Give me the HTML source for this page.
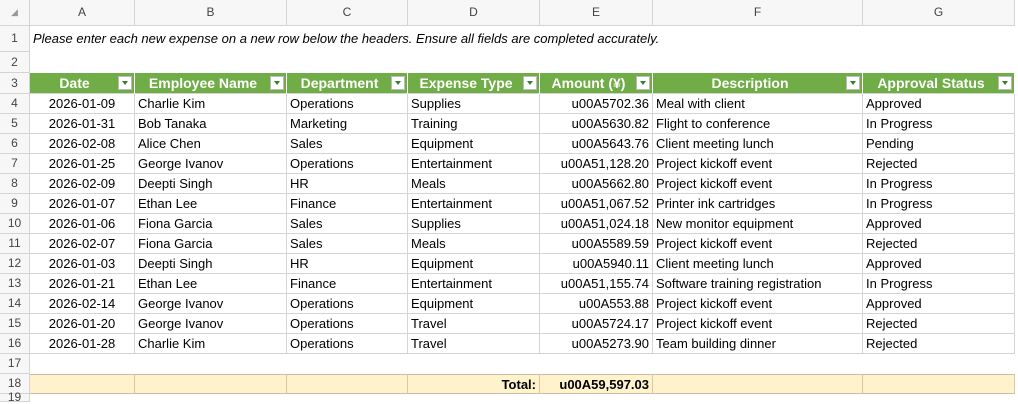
<!DOCTYPE html>
<html><head><meta charset="utf-8">
<style>
body{margin:0;width:1018px;height:402px;background:#fff;overflow:hidden;font-family:"Liberation Sans",Carlito,sans-serif;}
#s{position:absolute;left:0;top:0;width:1018px;height:402px;}
.c{position:absolute;box-sizing:border-box;border-right:1px solid #d4d4d4;border-bottom:1px solid #d4d4d4;font-size:13px;line-height:19px;white-space:nowrap;overflow:visible;padding:0 3px;color:#000;}
.hd{background:#f7f7f7;color:#444;text-align:center;font-size:12px;}
.gr{background:#70ad47;color:#fff;font-weight:bold;text-align:center;border-right:1px solid #fff;font-size:14px;}
.nb{border:none;}
.fl{position:absolute;right:2px;top:3px;width:14px;height:14px;background:#fff;border:1px solid #bbb;box-sizing:border-box;}
.fl:after{content:"";position:absolute;left:3px;top:4px;border-left:3px solid transparent;border-right:3px solid transparent;border-top:4px solid #3a7d3a;}
.tot{background:#fff2cc;border-right:1px solid #d9c9a0;border-bottom:1px solid #c9bfa5;border-top:1px solid #c9bfa5;}
</style></head><body>
<div id="s"></div>
<script>
const colX=[0,30,135,287,408,540,653,863,1015];
const colNames=["A","B","C","D","E","F","G"];
const headers=["Date","Employee Name","Department","Expense Type","Amount (¥)","Description","Approval Status"];
const rows=[
["2026-01-09","Charlie Kim","Operations","Supplies","u00A5702.36","Meal with client","Approved"],
["2026-01-31","Bob Tanaka","Marketing","Training","u00A5630.82","Flight to conference","In Progress"],
["2026-02-08","Alice Chen","Sales","Equipment","u00A5643.76","Client meeting lunch","Pending"],
["2026-01-25","George Ivanov","Operations","Entertainment","u00A51,128.20","Project kickoff event","Rejected"],
["2026-02-09","Deepti Singh","HR","Meals","u00A5662.80","Project kickoff event","In Progress"],
["2026-01-07","Ethan Lee","Finance","Entertainment","u00A51,067.52","Printer ink cartridges","In Progress"],
["2026-01-06","Fiona Garcia","Sales","Supplies","u00A51,024.18","New monitor equipment","Approved"],
["2026-02-07","Fiona Garcia","Sales","Meals","u00A5589.59","Project kickoff event","Rejected"],
["2026-01-03","Deepti Singh","HR","Equipment","u00A5940.11","Client meeting lunch","Approved"],
["2026-01-21","Ethan Lee","Finance","Entertainment","u00A51,155.74","Software training registration","In Progress"],
["2026-02-14","George Ivanov","Operations","Equipment","u00A553.88","Project kickoff event","Approved"],
["2026-01-20","George Ivanov","Operations","Travel","u00A5724.17","Project kickoff event","Rejected"],
["2026-01-28","Charlie Kim","Operations","Travel","u00A5273.90","Team building dinner","Rejected"]];
const rowY=[0,26,52,73,94];
for(let r=5;r<=19;r++)rowY.push(94+(r-4)*20);
const S=document.getElementById('s');
function cell(x1,x2,y1,y2,txt,cls,align,name){
  const d=document.createElement('div');
  d.className='c '+(cls||'');
  d.style.left=x1+'px';d.style.top=y1+'px';d.style.width=(x2-x1)+'px';d.style.height=(y2-y1)+'px';
  d.style.lineHeight=(y2-y1-1)+'px';
  if(align)d.style.textAlign=align;
  d.textContent=txt;
  
  
  S.appendChild(d);return d;
}
const corner=cell(0,30,0,26,'◢','hd','center','select-all-corner');corner.style.fontSize='9px';corner.style.color='#999';
for(let i=0;i<7;i++)cell(colX[i+1],colX[i+2],0,26,colNames[i],'hd','center','column-header-'+colNames[i].toLowerCase());
for(let r=1;r<=19;r++){
  const y2=r<19?rowY[r+1]:402;
  cell(0,30,rowY[r],y2,String(r),'hd','center','row-header-'+r);
}
const n=cell(30,1015,26,52,'Please enter each new expense on a new row below the headers. Ensure all fields are completed accurately.','nb','left','instructions-note');
n.style.fontStyle='italic';
for(let i=0;i<7;i++){
  const d=cell(colX[i+1],colX[i+2],73,94,headers[i],'gr','center','header-'+headers[i].toLowerCase().replace(/[^a-z]+/g,'-'));
  d.style.paddingRight='18px';
  const f=document.createElement('span');f.className='fl';
  
  
  d.appendChild(f);
}
rows.forEach((row,ri)=>{
  const y1=rowY[ri+4],y2=rowY[ri+5];
  row.forEach((v,ci)=>{
    const al=ci===0?'center':(ci===4?'right':'left');
    cell(colX[ci+1],colX[ci+2],y1,y2,v,'',al,'data-cell');
  });
});
for(let i=0;i<7;i++){
  let t='';if(i===3)t='Total:';if(i===4)t='u00A59,597.03';
  const d=cell(colX[i+1],colX[i+2],rowY[18],rowY[19],t,'tot',(i===3||i===4)?'right':'left',i===4?'total-amount':(i===3?'total-label':'total-row-cell'));
  d.style.fontWeight='bold';
}
</script>
</body></html>
